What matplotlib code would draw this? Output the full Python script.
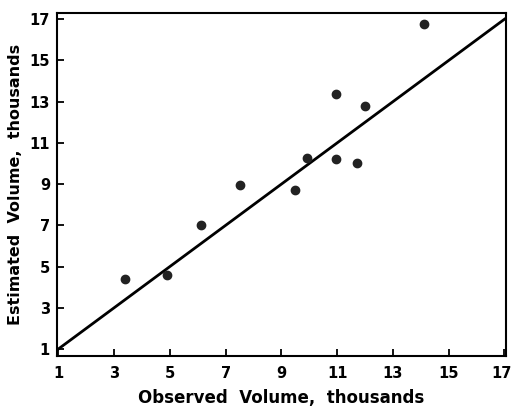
import matplotlib
matplotlib.use('Agg')
import matplotlib.pyplot as plt
import matplotlib.transforms as mtransforms
import numpy as np

plt.rcParams['font.family'] = ['DejaVu Sans']

# observed vs estimated volume (thousands)
observed = [3.4, 4.9, 6.1, 7.5, 9.5, 9.9, 10.95, 10.95, 11.7, 12.0, 14.1]
estimated = [4.4, 4.6, 7.0, 8.95, 8.7, 10.25, 13.35, 10.2, 10.0, 12.8, 16.75]
line_x = [1, 17]
line_y = [1, 17]
ticks = [1, 3, 5, 7, 9, 11, 13, 15, 17]

fig = plt.figure(figsize=(5.11, 4.17), dpi=100)
ax = fig.add_axes([0.1115, 0.1463, 0.8785, 0.8225])

ax.plot(line_x, line_y, color='black', linewidth=2)
ax.scatter(observed, estimated, s=36, color='#222222', zorder=3)

ax.set_xlim(0.95, 17.05)
ax.set_ylim(0.66, 17.3)
ax.set_xticks(ticks)
ax.set_yticks(ticks)
ax.tick_params(direction='in', length=5, width=1.3, labelsize=10.5,
               colors='black', pad=7)
ax.tick_params(axis='y', pad=5)
for lab in ax.get_xticklabels() + ax.get_yticklabels():
    lab.set_fontweight('bold')
# nudge the last x label so it stays inside the figure
last = ax.get_xticklabels()[-1]
last.set_transform(last.get_transform() +
                   mtransforms.ScaledTranslation(-3 / 100, 0, fig.dpi_scale_trans))
for sp in ax.spines.values():
    sp.set_linewidth(1.5)

ax.set_xlabel('Observed  Volume,  thousands', fontsize=12, fontweight='bold', labelpad=6)
ax.set_ylabel('Estimated  Volume,  thousands', fontsize=11.5, fontweight='bold', labelpad=5)

fig.savefig('out.png', dpi=100)
